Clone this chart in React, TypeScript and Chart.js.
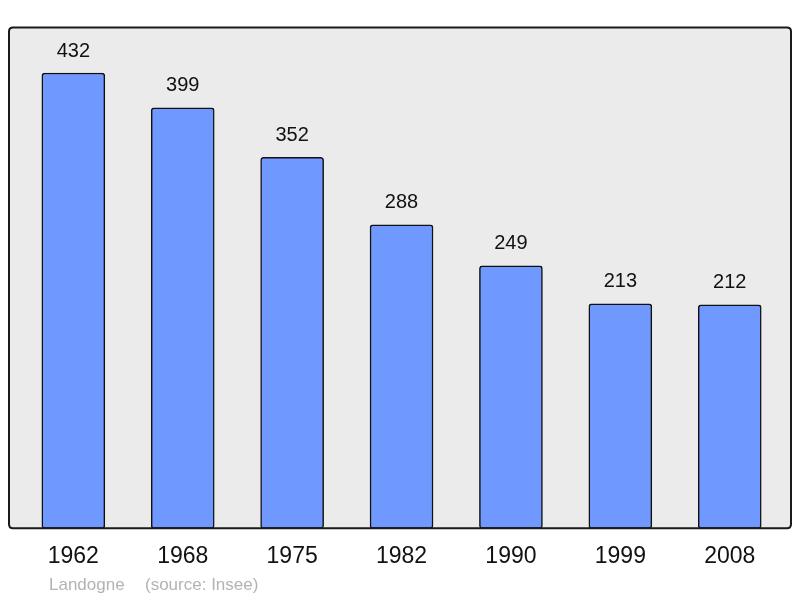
import React, { useEffect, useRef } from "react";
import { Chart, registerables } from "chart.js";

Chart.register(...registerables);

const years = ["1962", "1968", "1975", "1982", "1990", "1999", "2008"];
const population = [432, 399, 352, 288, 249, 213, 212];
const commune = "Landogne";
const source = "(source: Insee)";

const FONT = "'Liberation Sans', Arial, sans-serif";

function roundRect(ctx: CanvasRenderingContext2D, x: number, y: number, w: number, h: number, r: number) {
  ctx.beginPath();
  ctx.moveTo(x + r, y);
  ctx.lineTo(x + w - r, y);
  ctx.quadraticCurveTo(x + w, y, x + w, y + r);
  ctx.lineTo(x + w, y + h - r);
  ctx.quadraticCurveTo(x + w, y + h, x + w - r, y + h);
  ctx.lineTo(x + r, y + h);
  ctx.quadraticCurveTo(x, y + h, x, y + h - r);
  ctx.lineTo(x, y + r);
  ctx.quadraticCurveTo(x, y, x + r, y);
  ctx.closePath();
}

const framePlugin = {
  id: "frame",
  beforeDatasetsDraw(chart: any) {
    const { ctx, chartArea: a } = chart;
    ctx.save();
    roundRect(ctx, a.left, a.top, a.right - a.left, a.bottom - a.top, 4);
    ctx.fillStyle = "#ebebeb";
    ctx.fill();
    ctx.restore();
  },
  afterDatasetsDraw(chart: any) {
    const { ctx, chartArea: a } = chart;
    ctx.save();
    roundRect(ctx, a.left, a.top, a.right - a.left, a.bottom - a.top, 4);
    ctx.lineWidth = 2;
    ctx.strokeStyle = "#1a1a1a";
    ctx.stroke();
    // value labels
    const meta = chart.getDatasetMeta(0);
    ctx.fillStyle = "#111";
    ctx.font = `20px ${FONT}`;
    ctx.textAlign = "center";
    ctx.textBaseline = "middle";
    meta.data.forEach((bar: any, i: number) => {
      ctx.fillText(String(population[i]), bar.x, bar.y - 22);
    });
    // footer
    ctx.fillStyle = "#b3b3b3";
    ctx.font = `17px ${FONT}`;
    ctx.textAlign = "left";
    ctx.textBaseline = "alphabetic";
    ctx.fillText(commune, 49, 590);
    ctx.fillText(source, 145, 590);
    ctx.restore();
  },
};

export default function App() {
  const ref = useRef<HTMLCanvasElement | null>(null);
  useEffect(() => {
    document.body.style.margin = "0";
    const canvas = ref.current!;
    const chart = new Chart(canvas, {
      type: "bar",
      data: {
        datasets: [
          {
            data: population.map((v, i) => ({ x: i, y: v })),
            backgroundColor: "#7099ff",
            borderColor: "#111",
            borderWidth: 1.5,
            borderSkipped: false,
            borderRadius: 3,
            barThickness: 63,
          },
        ],
      },
      options: {
        responsive: false,
        animation: false,
        layout: { padding: { left: 9, right: 9, top: 27.5, bottom: 0 } },
        plugins: { legend: { display: false }, tooltip: { enabled: false } },
        scales: {
          x: {
            type: "linear",
            offset: false,
            min: -0.588,
            max: 6.56,
            grid: { display: false, drawTicks: false, offset: false },
            border: { display: false },
            afterFit(scale: any) {
              scale.height = 69.7;
            },
            ticks: {
              stepSize: 1,
              includeBounds: false,
              autoSkip: false,
              maxRotation: 0,
              padding: 15,
              color: "#111",
              font: { family: FONT, size: 23 },
              callback: (v: any) => (Number.isInteger(v) && years[v] !== undefined ? years[v] : ""),
            },
          },
          y: {
            display: false,
            min: 0,
            max: 475.2,
          },
        },
      },
      plugins: [framePlugin],
    });
    return () => chart.destroy();
  }, []);
  return (
    <div style={{ position: "absolute", left: 0, top: 0, width: 800, height: 598 }}>
      <canvas ref={ref} width={800} height={598} style={{ display: "block" }} />
    </div>
  );
}
